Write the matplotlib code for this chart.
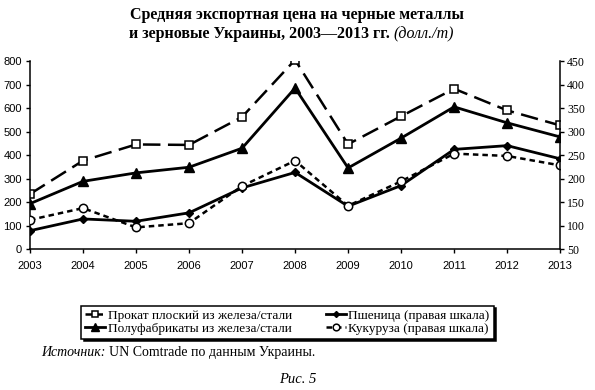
import numpy as np
import matplotlib.pyplot as plt

# data
years = [2003, 2004, 2005, 2006, 2007, 2008, 2009, 2010, 2011, 2012, 2013]
flat_steel = [234, 376, 445, 443, 562, 805, 446, 565, 682, 590, 526]
semi_steel = [193, 288, 324, 348, 429, 685, 345, 472, 605, 537, 477]
wheat = [89, 114, 109, 127, 180, 213, 141, 185, 262, 270, 242]
maize = [112, 137, 96, 105, 184, 238, 142, 194, 253, 248, 228]

labels = ["Прокат плоский из железа/стали",
          "Полуфабрикаты из железа/стали",
          "Пшеница (правая шкала)",
          "Кукуруза (правая шкала)"]

serif = "Liberation Serif"
sans = "Liberation Sans"

fig = plt.figure(figsize=(5.95, 3.9), dpi=100)
ax = fig.add_axes([0.0504, 0.3615, 0.891, 0.482])
ax2 = ax.twinx()

l1, = ax.plot(years, flat_steel, color="black", lw=1.8, dashes=(7, 3),
              marker="s", ms=6, mfc="white", mec="black", mew=1.1)
l2, = ax.plot(years, semi_steel, color="black", lw=2, marker="^", ms=6.5,
              mfc="black", mec="black")
l3, = ax2.plot(years, wheat, color="black", lw=2, marker="D", ms=3.8,
               mfc="black", mec="black")
l4, = ax2.plot(years, maize, color="black", lw=1.8, dashes=(2.2, 1.6),
               marker="o", ms=6, mfc="white", mec="black", mew=1.1)

ax.set_xlim(2003, 2013)
ax.set_ylim(0, 800)
ax2.set_ylim(50, 450)
ax.set_xticks(years)
ax.set_yticks(np.arange(0, 801, 100))
ax2.set_yticks(np.arange(50, 451, 50))

for a in (ax, ax2):
    a.spines["top"].set_visible(False)
    for s in a.spines.values():
        s.set_linewidth(1.1)
ax.spines["right"].set_visible(False)
ax2.spines["left"].set_visible(False)
ax2.spines["bottom"].set_visible(False)

ax.tick_params(axis="both", direction="out", length=3, width=1, pad=3)
ax2.tick_params(axis="y", direction="out", length=3, width=1, pad=2)
for t in ax.get_xticklabels() + ax.get_yticklabels():
    t.set_fontfamily(sans)
    t.set_fontsize(8)
for t in ax.get_xticklabels():
    t.set_y(-0.02)
for t in ax2.get_yticklabels():
    t.set_fontfamily(serif)
    t.set_fontsize(8.5)

leg = fig.legend([l1, l2, l3, l4], labels, ncol=2, loc="center",
                 bbox_to_anchor=(0.483, 0.174), frameon=True, fancybox=False,
                 shadow={"color": "black", "alpha": 1},
                 prop={"family": serif, "size": 9.5},
                 handlelength=1.5, handletextpad=0.2, columnspacing=2.6,
                 labelspacing=0.05, borderpad=0.3, markerscale=0.8)
leg.get_frame().set_edgecolor("black")
leg.get_frame().set_linewidth(1.1)

# title
fig.text(0.5, 0.962, "Средняя экспортная цена на черные металлы",
         ha="center", va="center", fontfamily=serif, fontweight="bold",
         fontsize=11.5)
fig.text(0.662, 0.912, "и зерновые Украины, 2003—2013 гг. ",
         ha="right", va="center", fontfamily=serif, fontweight="bold",
         fontsize=11.5)
fig.text(0.662, 0.912, "(долл./т)", ha="left", va="center",
         fontfamily=serif, fontstyle="italic", fontsize=11.5)

# source
fig.text(0.07, 0.095, "Источник:", ha="left", va="center",
         fontfamily=serif, fontstyle="italic", fontsize=10)
fig.text(0.183, 0.095, "UN Comtrade по данным Украины.", ha="left",
         va="center", fontfamily=serif, fontsize=10)

fig.text(0.5, 0.028, "Рис. 5", ha="center", va="center",
         fontfamily=serif, fontstyle="italic", fontsize=10.5)

plt.savefig("out.png", dpi=100)
